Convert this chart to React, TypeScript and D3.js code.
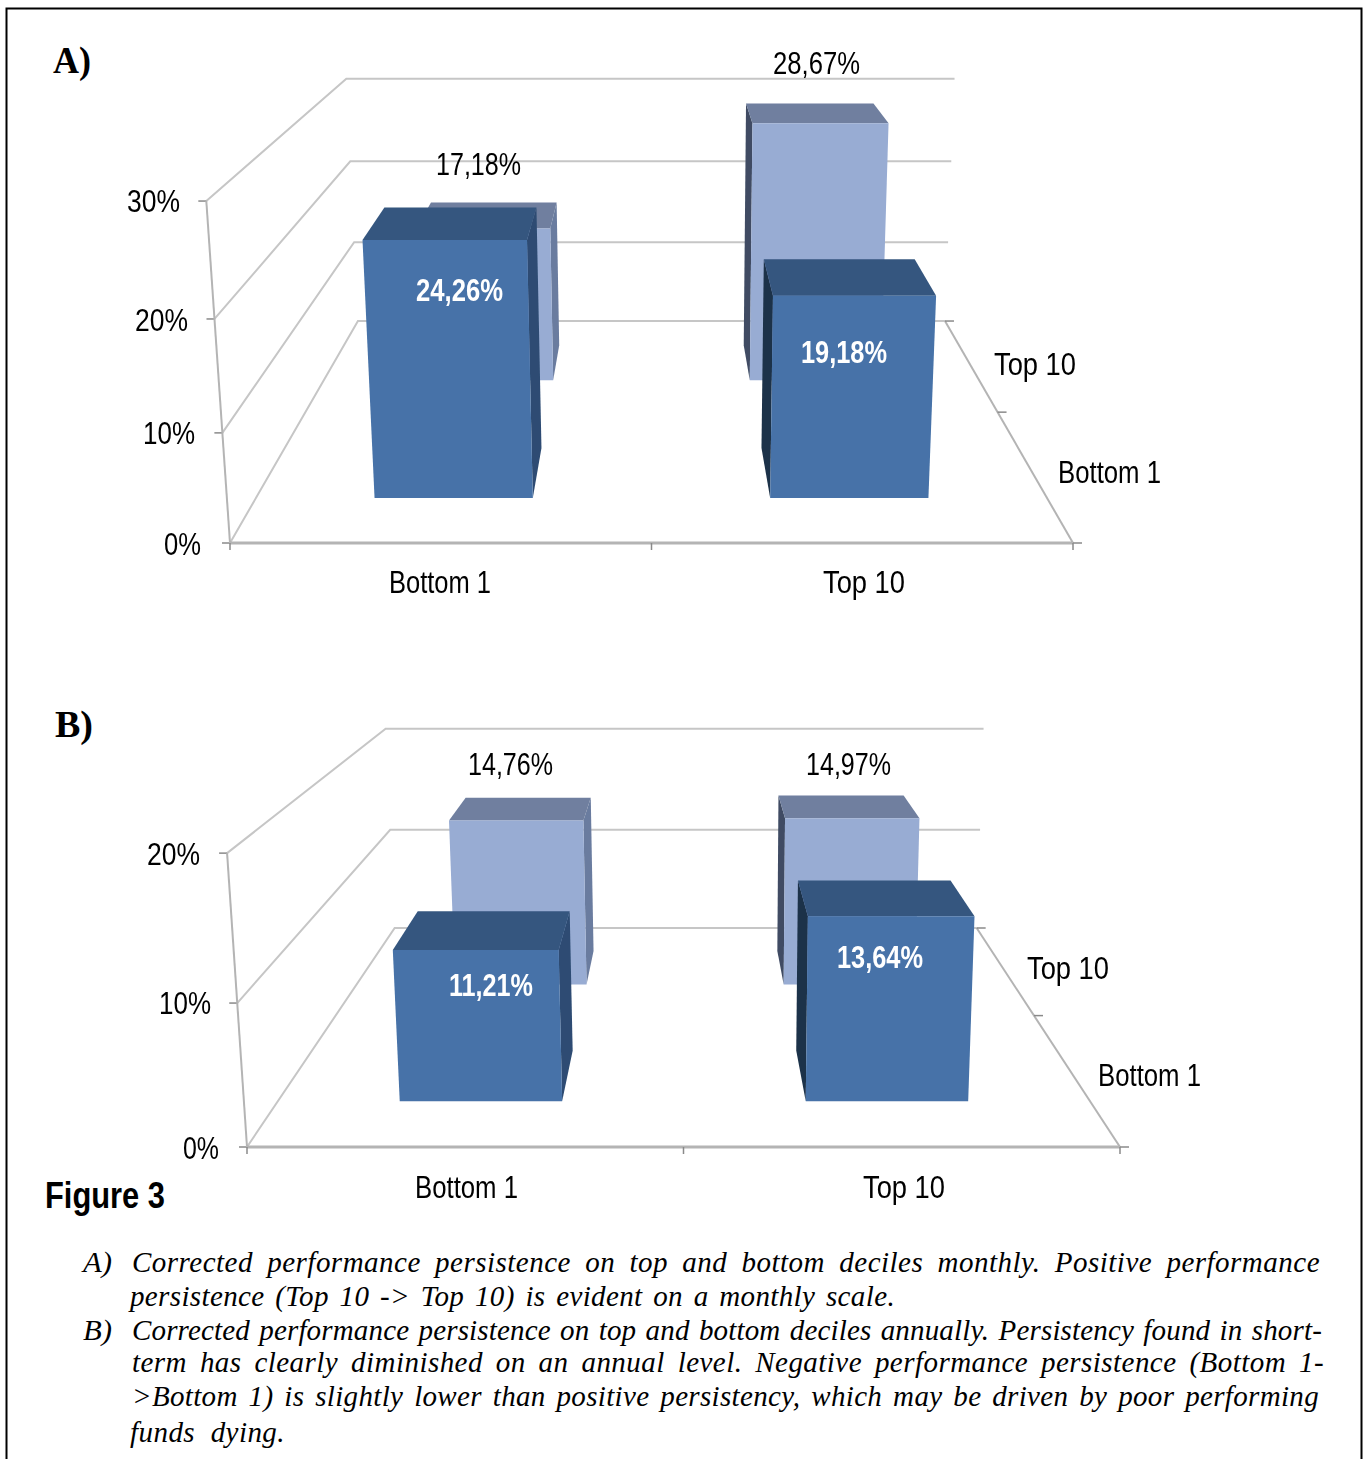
import React from "react";
import * as d3 from "d3";

const categories = ["Bottom 1", "Top 10"];
const depthSeries = ["Bottom 1", "Top 10"];
// value[front/back series][category]
const valuesA = { "Bottom 1": [24.26, 19.18], "Top 10": [17.18, 28.67] };
const valuesB = { "Bottom 1": [11.21, 13.64], "Top 10": [14.76, 14.97] };
const ticksA = [0, 10, 20, 30];
const ticksB = [0, 10, 20];
const labelsA = ["24,26%", "19,18%", "17,18%", "28,67%"];
const labelsB = ["11,21%", "13,64%", "14,76%", "14,97%"];
const captionLines = [
  "Corrected performance persistence on top and bottom deciles monthly. Positive performance",
  "persistence (Top 10 -> Top 10) is evident on a monthly scale.",
  "Corrected performance persistence on top and bottom deciles annually. Persistency found in short-",
  "term has clearly diminished on an annual level. Negative performance persistence (Bottom 1-",
  ">Bottom 1) is slightly lower than positive persistency, which may be driven by poor performing",
  "funds dying.",
];

// Layout (not data)
const SANS = "'Liberation Sans', Arial, sans-serif";
const SERIF = "'Liberation Serif', 'Times New Roman', serif";
const COL = {
  frontFace: "#4672a8", frontTop: "#35567f", frontRight: "#2d4c73", frontLeft: "#1c3148",
  backFace: "#98acd3", backTop: "#6f7f9f", backRight: "#6a7c9f", backLeft: "#3f4c64",
  grid: "#c6c6c6", axis: "#b4b4b4", tick: "#8a8a8a",
};
const captionX = [[132, 1320, 1272], [130, 895, 1306], [132, 1322, 1340], [132, 1324, 1372], [132, 1319, 1406], [130, 285, 1442]];
const CAPTION_SIZE = 29;

const xBand = d3.scaleBand<string>().domain(categories).range([0, 1]).paddingInner(0.6).paddingOuter(0.3);
const zBand = d3.scaleBand<string>().domain(depthSeries).range([0, 1]).paddingInner(0.62).paddingOuter(0.296);
const path = d3.line<[number, number]>();

type Cam = { a: number; b: number; c: number; dx: number; e: number; f: number; g: number; p: number; q: number };
const makeProject = (cam: Cam, yMax: number) => {
  const vScale = d3.scaleLinear().domain([0, yMax]).range([0, 1]);
  return (x: number, value: number, z: number): [number, number] => {
    const v = vScale(value);
    const w = 1 + cam.p * v + cam.q * z;
    return [(cam.a * x + cam.b * v + cam.c * z + cam.dx) / w, (cam.e * v + cam.f * z + cam.g) / w];
  };
};

type T = { s: string; x1: number; x2: number; y: number; size: number; weight?: string; fill?: string; family?: string; style?: string };
const Txt = ({ s, x1, x2, y, size, weight, fill, family, style }: T) => (
  <text x={x1} y={y} fontSize={size} fontWeight={weight || "normal"} fontStyle={style || "normal"} fill={fill || "#000"}
    fontFamily={family || SANS} textLength={x2 - x1} lengthAdjust="spacingAndGlyphs">{s}</text>
);

// Justified caption line: most of the slack goes in the word gaps, the rest between letters.
const measureCtx = typeof document !== "undefined" ? document.createElement("canvas").getContext("2d") : null;
const CaptionLine = ({ s, x1, x2, y }: { s: string; x1: number; x2: number; y: number }) => {
  let natural = x2 - x1;
  if (measureCtx) {
    measureCtx.font = `italic ${CAPTION_SIZE}px 'Liberation Serif'`;
    natural = measureCtx.measureText(s).width;
  }
  const extra = x2 - x1 - natural;
  const gaps = (s.match(/ /g) || []).length || 1;
  const wordShare = extra > 0 ? 0.6 : 0.9;
  return (
    <text x={x1} y={y} fontSize={CAPTION_SIZE} fontStyle="italic" fontFamily={SERIF}
      wordSpacing={(extra * wordShare) / gaps} letterSpacing={(extra * (1 - wordShare)) / s.length}>{s}</text>
  );
};

function Panel({ cam, yMax, ticks, values, labels, tickLabelX, catLabelX, depthLabels, labelBoxes, catY }: any) {
  const P = makeProject(cam, yMax);
  const line = (pts: [number, number][], stroke: string, w: number, key?: any) => (
    <path key={key} d={path(pts) || ""} fill="none" stroke={stroke} strokeWidth={w} />
  );
  const poly = (pts: [number, number][], fill: string) => <path d={(path(pts) || "") + "Z"} fill={fill} />;

  const bar = (cat: string, series: string, i: number, front: boolean) => {
    const x1 = xBand(cat)!, x2 = x1 + xBand.bandwidth();
    const z1 = zBand(series)!, z2 = z1 + zBand.bandwidth();
    const v = values[series][i];
    const leftSide = P(x1, 0, z2)[0] < P(x1, 0, z1)[0];
    const rightSide = P(x2, 0, z2)[0] > P(x2, 0, z1)[0];
    return (
      <g key={cat + series}>
        {rightSide && poly([P(x2, 0, z1), P(x2, 0, z2), P(x2, v, z2), P(x2, v, z1)], front ? COL.frontRight : COL.backRight)}
        {leftSide && poly([P(x1, 0, z1), P(x1, 0, z2), P(x1, v, z2), P(x1, v, z1)], front ? COL.frontLeft : COL.backLeft)}
        {poly([P(x1, v, z1), P(x2, v, z1), P(x2, v, z2), P(x1, v, z2)], front ? COL.frontTop : COL.backTop)}
        {poly([P(x1, 0, z1), P(x2, 0, z1), P(x2, v, z1), P(x1, v, z1)], front ? COL.frontFace : COL.backFace)}
      </g>
    );
  };

  return (
    <g>
      <g filter="url(#soft)">
        {ticks.map((t: number) => (
          <g key={t}>
            {line([P(0, t, 0), P(0, t, 1), P(1, t, 1)], COL.grid, 2)}
            {line([[P(0, t, 0)[0] - 8, P(0, t, 0)[1]], P(0, t, 0)], COL.tick, 1.5)}
          </g>
        ))}
        {line([P(0, 0, 0), P(0, yMax, 0)], COL.axis, 2)}
        {line([P(0, 0, 0), P(1, 0, 0)], COL.axis, 3)}
        {line([P(1, 0, 0), P(1, 0, 1)], COL.axis, 2)}
        {[0, 0.5, 1].map((x) => line([P(x, 0, 0), [P(x, 0, 0)[0], P(x, 0, 0)[1] + 7]], COL.tick, 1.5, "x" + x))}
        {[0, 0.5, 1].map((z) => line([P(1, 0, z), [P(1, 0, z)[0] + 9, P(1, 0, z)[1]]], COL.tick, 1.5, "z" + z))}
        {categories.map((c, i) => bar(c, "Top 10", i, false))}
        {categories.map((c, i) => bar(c, "Bottom 1", i, true))}
      </g>
      <g filter="url(#softText)">
        {ticks.map((t: number, i: number) => (
          <Txt key={t} s={`${t}%`} x1={tickLabelX[i][0]} x2={tickLabelX[i][1]} y={tickLabelX[i][2]} size={31} />
        ))}
        {categories.map((c, i) => (
          <Txt key={c} s={c} x1={catLabelX[i][0]} x2={catLabelX[i][1]} y={catY} size={31} />
        ))}
        {depthSeries.map((c, i) => (
          <Txt key={"d" + c} s={c} x1={depthLabels[i][0]} x2={depthLabels[i][1]} y={depthLabels[i][2]} size={31} />
        ))}
        {labels.map((s: string, i: number) => (
          <Txt key={s} s={s} x1={labelBoxes[i][0]} x2={labelBoxes[i][1]} y={labelBoxes[i][2]} size={31}
            weight={i < 2 ? "bold" : "normal"} fill={i < 2 ? "#fff" : "#000"} />
        ))}
      </g>
    </g>
  );
}

export default function App() {
  return (
    <svg width={1369} height={1459} style={{ position: "absolute", left: 0, top: 0, background: "#fff" }}>
      <defs>
        <filter id="soft" x="-5%" y="-5%" width="110%" height="110%"><feGaussianBlur stdDeviation="0.6" /></filter>
        <filter id="softText" x="-5%" y="-5%" width="110%" height="110%"><feGaussianBlur stdDeviation="0.35" /></filter>
      </defs>
      <path d="M6.5 1470V8.5H1361.5V1470" fill="none" stroke="#000" strokeWidth={2} />
      <Txt s="A)" x1={53} x2={91} y={73} size={37} weight="bold" family={SERIF} />
      <Txt s="B)" x1={55} x2={93} y={737} size={37} weight="bold" family={SERIF} />
      <Panel
        cam={{ a: 843, b: -34, c: 284, dx: 230, e: -352, f: -82, g: 543, p: -0.05, q: 0.436 }}
        yMax={30} ticks={ticksA} values={valuesA} labels={labelsA}
        tickLabelX={[[164, 201, 555], [143, 195, 444], [135, 188, 331], [127, 180, 212]]}
        catLabelX={[[389, 491], [823, 905]]} catY={593}
        depthLabels={[[1058, 1161, 483], [994, 1076, 375]]}
        labelBoxes={[[416, 503, 301], [801, 887, 363], [436, 521, 175], [773, 860, 74]]}
      />
      <Panel
        cam={{ a: 873, b: -29, c: 345, dx: 247, e: -328, f: 245, g: 1147, p: -0.04, q: 0.5 }}
        yMax={20} ticks={ticksB} values={valuesB} labels={labelsB}
        tickLabelX={[[183, 219, 1159], [159, 211, 1014], [147, 200, 865]]}
        catLabelX={[[415, 518], [863, 945]]} catY={1198}
        depthLabels={[[1098, 1201, 1086], [1027, 1109, 979]]}
        labelBoxes={[[449, 533, 996], [837, 923, 968], [468, 553, 775], [806, 891, 775]]}
      />
      <Txt s="Figure 3" x1={45} x2={165} y={1208} size={37} weight="bold" />
      <Txt s="A)" x1={83} x2={112} y={1272} size={CAPTION_SIZE} style="italic" family={SERIF} />
      <Txt s="B)" x1={83} x2={112} y={1340} size={CAPTION_SIZE} style="italic" family={SERIF} />
      {captionLines.map((s, i) => (
        <CaptionLine key={i} s={s} x1={captionX[i][0]} x2={captionX[i][1]} y={captionX[i][2]} />
      ))}
    </svg>
  );
}
